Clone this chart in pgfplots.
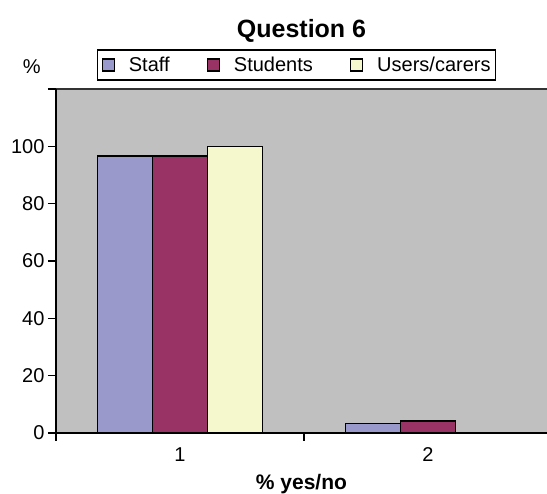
\documentclass[border=0pt]{standalone}
\usepackage{fontspec}
\setmainfont{Liberation Sans}
\usepackage{pgfplots}
\pgfplotsset{compat=1.18}
\definecolor{staff}{HTML}{9999CC}
\definecolor{students}{HTML}{993366}
\definecolor{users}{HTML}{F5F7CC}
\definecolor{bggray}{HTML}{C0C0C0}
\newcommand{\lsq}[1]{\addlegendimage{legend image code/.code={%
  \path (-1pt,0pt) (24pt,0pt);
  \draw[fill=#1,draw=black,line width=1.1pt] (0pt,-6pt) rectangle (12pt,6pt);}}}
\begin{document}
\begin{tikzpicture}
\begin{axis}[
  scale only axis, width=491pt, height=344pt,
  at={(0pt,0pt)}, anchor=south west,
  xmin=0.5, xmax=2.48, ymin=0, ymax=120,
  clip=false,
  axis background/.style={fill=bggray},
  axis line style={draw=none},
  tick pos=left,
  /pgf/number format/assume math mode=true,
  ticklabel style={font=\fontsize{20}{24}\selectfont},
  tick style={black, line width=1.2pt},
  tick align=outside,
  xtick={0.5,1.5,2.5}, xticklabels={},
  x tick label style={anchor=north, yshift=-11pt},
  major tick length=8pt,
  extra x ticks={1,2}, extra x tick labels={1,2},
  extra x tick style={major tick length=0pt},
  ytick={0,20,40,60,80,100,120},
  yticklabels={0,20,40,60,80,100,{}},
  legend columns=3,
  legend style={at={(0.49,1.0698)}, anchor=center, draw=black, line width=1.3pt,
    fill=white, font=\fontsize{20}{24}\selectfont,
    nodes={inner sep=2pt}, inner xsep=3pt, inner ysep=5pt,
    /tikz/every even column/.append style={column sep=34pt}},
]
\lsq{staff}\addlegendentry{Staff}
\lsq{students}\addlegendentry{Students}
\lsq{users}\addlegendentry{Users/carers}
\addplot[ybar, bar width=0.222, bar shift=-0.222, fill=staff, draw=black, line width=1.2pt, forget plot]
  coordinates {(1,96.6) (2,3.4)};
\addplot[ybar, bar width=0.222, bar shift=0, fill=students, draw=black, line width=1.2pt, forget plot]
  coordinates {(1,96.6) (2,4.2)};
\addplot[ybar, bar width=0.222, bar shift=0.222, fill=users, draw=black, line width=1.2pt, forget plot]
  coordinates {(1,100) (2,0)};
\draw[black!80, line width=1.3pt] (rel axis cs:0,1) -- (rel axis cs:1,1);
\draw[black, line width=1.3pt] (rel axis cs:0,1) -- (rel axis cs:0,0) -- (rel axis cs:1,0);
\end{axis}
\node[font=\bfseries\fontsize{25}{30}\selectfont, anchor=base] at (245.5pt,395pt) {Question 6};
\node[font=\bfseries\fontsize{21}{25}\selectfont, anchor=base] at (245.5pt,-57pt) {\% yes/no};
\node[font=\fontsize{20}{24}\selectfont, anchor=base] at (-24.3pt,359pt) {\%};
\pgfresetboundingbox
\useasboundingbox (-56pt,-61pt) rectangle (491pt,433pt);
\end{tikzpicture}
\end{document}
